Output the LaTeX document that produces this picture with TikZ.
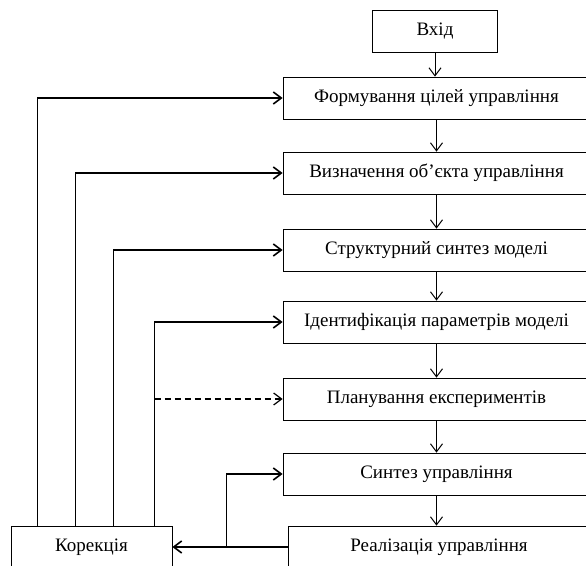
\documentclass[tikz,border=0pt]{standalone}
\usepackage{fontspec}
\setmainfont{Liberation Serif}
\usepackage{tikz}
\usetikzlibrary{arrows.meta,positioning,calc}

\tikzset{
  blok/.style={draw, line width=0.8pt, minimum height=42pt, inner sep=2pt,
    font=\fontsize{19}{22}\selectfont},
  potik/.style={line width=1pt, -{Straight Barb[length=8pt,width=12pt]}},
  zvjazok/.style={line width=1.6pt, -{Straight Barb[length=8pt,width=12pt]}},
}

\begin{document}
\begin{tikzpicture}[x=1pt,y=-1pt]
    \useasboundingbox (0,0) rectangle (586,565);
    \node[blok, minimum width=125pt] (vhid) at (435,31) {Вхід};
    \node[blok, minimum width=307pt] (form) at (436.5,98) {Формування цілей управління};
    \node[blok, minimum width=307pt] (vyzn) at (436.5,173) {Визначення об’єкта управління};
    \node[blok, minimum width=307pt] (strukt) at (436.5,250) {Структурний синтез моделі};
    \node[blok, minimum width=307pt] (ident) at (436.5,322) {Ідентифікація параметрів моделі};
    \node[blok, minimum width=307pt] (plan) at (436.5,399) {Планування експериментів};
    \node[blok, minimum width=307pt] (synt) at (436.5,474) {Синтез управління};
    \node[blok, minimum width=302pt] (real) at (439,547) {Реалізація управління};
    \node[blok, minimum width=161pt] (kor) at (91.5,547) {Корекція};

    \draw[potik] (vhid.south) -- (vhid.south |- form.north);
    \draw[potik] (form) -- (vyzn);
    \draw[potik] (vyzn) -- (strukt);
    \draw[potik] (strukt) -- (ident);
    \draw[potik] (ident) -- (plan);
    \draw[potik] (plan) -- (synt);
    \draw[potik] (synt.south) -- (synt.south |- real.north);

    \draw[zvjazok] ([xshift=27pt]kor.north west) |- (form.west);
    \draw[zvjazok] ([xshift=65pt]kor.north west) |- (vyzn.west);
    \draw[zvjazok] ([xshift=103pt]kor.north west) |- (strukt.west);
    \draw[zvjazok] ([xshift=144pt]kor.north west) |- (ident.west);
    \draw[zvjazok, line width=1.2pt, dash pattern=on 6pt off 4pt]
      ([xshift=144pt]kor.north west |- plan.west) -- (plan.west);

    \draw[zvjazok] (real.west) -- (kor.east);
    \coordinate (vuzol) at ([xshift=-61pt]real.west);
    \draw[zvjazok] (vuzol) |- (synt.west);
\end{tikzpicture}
\end{document}
